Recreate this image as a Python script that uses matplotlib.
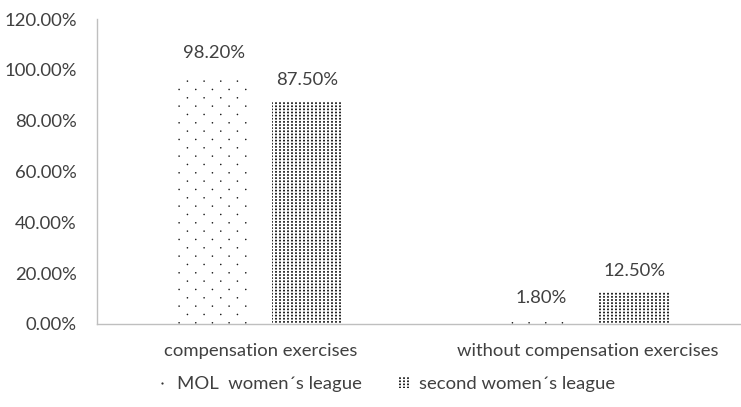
import warnings
warnings.filterwarnings("ignore")
import matplotlib
matplotlib.use("Agg")
import matplotlib.pyplot as plt
import matplotlib.hatch as mhatch
from matplotlib.path import Path
from matplotlib.lines import Line2D
import numpy as np

categories = ["compensation exercises", "without compensation exercises"]
series_names = ["MOL  women\u00b4s league", "second women\u00b4s league"]
mol_values = [98.20, 1.80]
second_values = [87.50, 12.50]
yticks = [0, 20, 40, 60, 80, 100, 120]


# custom dot hatch patterns:
# char -> (cols per inch, rows per inch, staggered, dot diameter, col phase, row phase) in inch
class DotHatch(mhatch.HatchPatternBase):
    specs = {'d': (6, 12, True, 0.016, 0.041, 0.022),
             'g': (25, 32, False, 0.02, 0.0, 0.0)}

    def __init__(self, hatch, density):
        self.centers = []
        for ch, (nc, nr, stag, size, xph, yph) in self.specs.items():
            if ch in hatch:
                rows = range(nr) if yph else range(nr + 1)
                for r in rows:
                    if stag and r % 2 == 1:
                        cols = np.arange(nc) / nc + 0.5 / nc + xph
                    elif xph:
                        cols = np.arange(nc) / nc + xph
                    else:
                        cols = np.arange(nc + 1) / nc
                    for c in cols:
                        self.centers.append((c, r / nr + yph, size))
        self.circle = Path.unit_circle()
        self.num_vertices = len(self.centers) * len(self.circle.vertices)
        self.filled = True

    def set_vertices_and_codes(self, vertices, codes):
        if not self.centers:
            return
        vs, cs = [], []
        for (cx, cy, size) in self.centers:
            vs.append(self.circle.vertices * size / 2 + [cx, cy])
            cs.append(self.circle.codes)
        np.concatenate(vs, out=vertices)
        np.concatenate(cs, out=codes)


mhatch._hatch_types.append(DotHatch)

plt.rcParams['font.family'] = ['Lato', 'DejaVu Sans']
plt.rcParams['hatch.linewidth'] = 0.0

FS = 13.3
fig = plt.figure(figsize=(7.41, 4.07), dpi=100)
ax = fig.add_axes([97/741, 1-324/407, (741-97)/741, (324-19)/407])

x = np.arange(len(categories))
w = 0.217
off = 0.143
b1 = ax.bar(x - off, mol_values, w, color='white', edgecolor='#1a1a1a', linewidth=0,
            hatch='d', label=series_names[0])
b2 = ax.bar(x + off, second_values, w, color='white', edgecolor='#1a1a1a', linewidth=0,
            hatch='g', label=series_names[1])

for bars, vals in ((b1, mol_values), (b2, second_values)):
    for r, v in zip(bars, vals):
        ax.annotate(f"{v:.2f}%", (r.get_x() + r.get_width()/2, v), xytext=(0, 15.5),
                    textcoords='offset points', ha='center', va='center',
                    fontsize=FS, color='#404040')

ax.set_xlim(-0.499, 1.467)
ax.set_ylim(0, 120)
ax.set_yticks(yticks)
ax.set_yticklabels([f"{t:.2f}%" for t in yticks], fontsize=FS, color='#404040')
ax.set_xticks(x)
ax.set_xticklabels(categories, fontsize=FS, color='#404040')
ax.tick_params(length=0)
ax.tick_params(axis='y', pad=14.5)
ax.tick_params(axis='x', pad=14)
for s in ['top', 'right']:
    ax.spines[s].set_visible(False)
for s in ['left', 'bottom']:
    ax.spines[s].set_color('#bfbfbf')
    ax.spines[s].set_linewidth(1)

mol_handle = Line2D([], [], linestyle='none', marker='o', markersize=1.6,
                    color='#333333', markeredgewidth=0)
leg = fig.legend(handles=[mol_handle, b2], labels=series_names, loc='center',
                 bbox_to_anchor=(386/741, 1-384/407), ncol=2, frameon=False,
                 fontsize=FS, handlelength=0.6, handleheight=0.6, columnspacing=2.0,
                 handletextpad=0.5)
for t in leg.get_texts():
    t.set_color('#404040')

fig.savefig("out.png", dpi=100)
